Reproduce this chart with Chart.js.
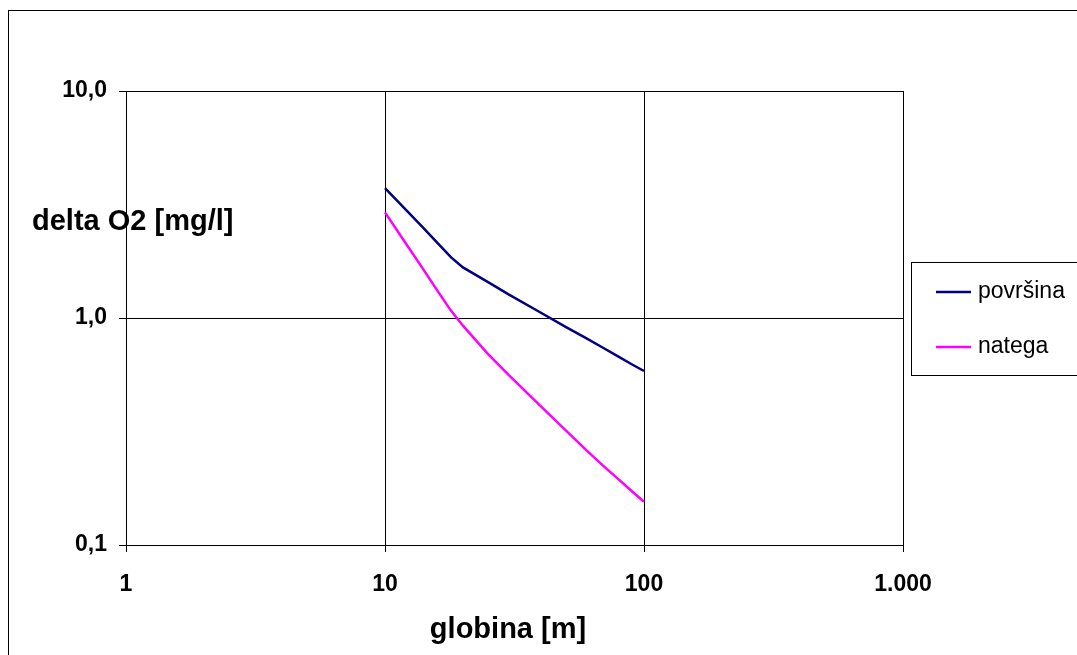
<!DOCTYPE html>
<html>
<head>
<meta charset="utf-8">
<script src="https://cdn.jsdelivr.net/npm/chart.js@4"></script>
<style>
  html, body { margin: 0; padding: 0; background: #fff; overflow: hidden; }
  #wrap { position: relative; width: 1077px; height: 655px; }
  #frame { position: absolute; left: 8px; top: 10px; width: 1100px; height: 700px; border: 1px solid #000; }
  canvas { position: absolute; left: 0; top: 0; }
</style>
</head>
<body>
<div id="wrap">
  <div id="frame"></div>
  <canvas id="chart" width="1077" height="655"></canvas>
</div>
<script>
const depths = [10, 12, 14, 16, 18, 20, 25, 30, 40, 50, 60, 70, 80, 90, 100];
const povrsina = [3.73, 3.01, 2.51, 2.13, 1.85, 1.67, 1.44, 1.27, 1.055, 0.912, 0.814, 0.736, 0.674, 0.624, 0.584];
const natega = [2.92, 2.14, 1.65, 1.31, 1.075, 0.925, 0.693, 0.561, 0.408, 0.319, 0.261, 0.222, 0.194, 0.172, 0.155];

const xTicks = [1, 10, 100, 1000];
const xTickLabels = ['1', '10', '100', '1.000'];
const yTicks = [0.1, 1, 10];
const yTickLabels = ['0,1', '1,0', '10,0'];

const seriesNames = ['površina', 'natega'];
const seriesColors = ['#000080', '#FF00FF'];

const font = 'Arial, "Liberation Sans", sans-serif';

function toPoints(vals) {
  return depths.map((d, i) => ({ x: d, y: vals[i] }));
}

// titles + legend drawn by hand, positioned like the original
const extras = {
  id: 'extras',
  afterDraw(chart) {
    const ctx = chart.ctx;
    ctx.save();
    ctx.fillStyle = '#000';
    ctx.font = 'bold 29px ' + font;
    ctx.textBaseline = 'middle';
    ctx.textAlign = 'left';
    ctx.fillText('delta O2 [mg/l]', 32, 222);
    ctx.textAlign = 'center';
    ctx.fillText('globina [m]', 508, 630);

    // legend box
    ctx.strokeStyle = '#000';
    ctx.lineWidth = 1;
    ctx.strokeRect(911.5, 262.5, 200, 113);
    ctx.font = '23px ' + font;
    ctx.textAlign = 'left';
    const ys = [292, 347];
    chart.data.datasets.forEach((ds, i) => {
      ctx.strokeStyle = ds.borderColor;
      ctx.lineWidth = 2.5;
      ctx.beginPath();
      ctx.moveTo(936, ys[i]);
      ctx.lineTo(971, ys[i]);
      ctx.stroke();
      ctx.fillStyle = '#000';
      ctx.fillText(ds.label, 978, ys[i]);
    });
    ctx.restore();
  }
};

new Chart(document.getElementById('chart'), {
  type: 'line',
  data: {
    datasets: [
      { label: seriesNames[0], data: toPoints(povrsina), borderColor: seriesColors[0], borderWidth: 2.5, pointRadius: 0, tension: 0, fill: false },
      { label: seriesNames[1], data: toPoints(natega), borderColor: seriesColors[1], borderWidth: 2.5, pointRadius: 0, tension: 0, fill: false }
    ]
  },
  options: {
    responsive: false,
    animation: false,
    layout: { padding: { left: 0, right: 174, top: 91, bottom: 0 } },
    plugins: { legend: { display: false }, tooltip: { enabled: false } },
    scales: {
      x: {
        type: 'logarithmic',
        min: 1,
        max: 1000,
        afterBuildTicks: (s) => { s.ticks = xTicks.map(v => ({ value: v })); },
        afterFit: (s) => { s.height = 110; },
        ticks: {
          autoSkip: false,
          maxRotation: 0,
          color: '#000',
          padding: 19,
          font: { family: font, size: 23, weight: 'bold' },
          callback: (v) => xTickLabels[xTicks.indexOf(v)] ?? ''
        },
        grid: { color: '#000', lineWidth: 1, tickLength: 7, drawTicks: true },
        border: { color: '#000', width: 1 }
      },
      y: {
        type: 'logarithmic',
        min: 0.1,
        max: 10,
        afterBuildTicks: (s) => { s.ticks = yTicks.map(v => ({ value: v })); },
        afterFit: (s) => { s.width = 126; },
        ticks: {
          autoSkip: false,
          color: '#000',
          padding: 12,
          font: { family: font, size: 23, weight: 'bold' },
          callback: (v) => {
            const i = yTicks.findIndex(t => Math.abs(t - v) < 1e-9);
            return i >= 0 ? yTickLabels[i] : '';
          }
        },
        grid: { color: '#000', lineWidth: 1, tickLength: 7, drawTicks: true },
        border: { color: '#000', width: 1 }
      }
    }
  },
  plugins: [extras]
});
</script>
</body>
</html>
